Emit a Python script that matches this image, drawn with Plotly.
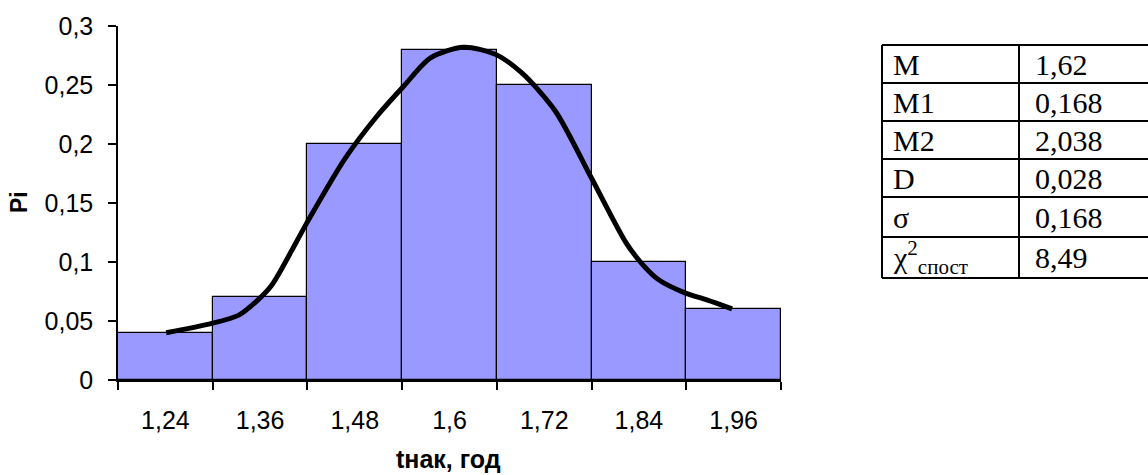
import plotly.graph_objects as go

# ---- data ----
categories = [1.24, 1.36, 1.48, 1.60, 1.72, 1.84, 1.96]
tick_labels = ["1,24", "1,36", "1,48", "1,6", "1,72", "1,84", "1,96"]
pi_values = [0.04, 0.07, 0.20, 0.28, 0.25, 0.10, 0.06]

curve_x = [1.241, 1.299, 1.333, 1.355, 1.375, 1.406, 1.420, 1.468, 1.508, 1.542,
           1.576, 1.618, 1.658, 1.692, 1.734, 1.780, 1.824, 1.845, 1.865, 1.899,
           1.926, 1.958]
curve_y = [0.040, 0.048, 0.055, 0.0665, 0.0806, 0.117, 0.134, 0.188, 0.2235, 0.249,
           0.273, 0.282, 0.276, 0.260, 0.228, 0.171, 0.116, 0.0976, 0.0849, 0.0736,
           0.0679, 0.0603]

y_ticks = [0, 0.05, 0.1, 0.15, 0.2, 0.25, 0.3]
y_tick_labels = ["0", "0,05", "0,1", "0,15", "0,2", "0,25", "0,3"]

table_names = ["M", "M1", "M2", "D", "σ", "χ<sup>2</sup><sub>спост</sub>"]
table_values = ["1,62", "0,168", "2,038", "0,028", "0,168", "8,49"]

bin_width = 0.12

W, H = 1148, 475
L, R, T, B = 118, 367, 26, 95
PW = W - L - R
PH = H - T - B


def px_x(p):
    return (p - L) / PW


def px_y(p):
    return 1 - (p - T) / PH


fig = go.Figure()
fig.add_trace(go.Bar(
    x=categories, y=pi_values, width=bin_width,
    marker=dict(color="#9999FF", line=dict(color="black", width=1.2)),
    showlegend=False, hoverinfo="skip",
))
fig.add_trace(go.Scatter(
    x=curve_x, y=curve_y, mode="lines",
    line=dict(color="black", width=5, shape="spline", smoothing=0.8),
    showlegend=False, hoverinfo="skip",
))

tick_font = dict(family="Liberation Sans, Arial, sans-serif", size=25, color="black")

fig.update_xaxes(
    range=[categories[0] - bin_width / 2, categories[-1] + bin_width / 2],
    tickvals=categories, ticktext=tick_labels,
    ticks="outside", ticklen=17, tickcolor="rgba(0,0,0,0)",
    minor=dict(tick0=categories[0] - bin_width / 2, dtick=bin_width,
               ticks="outside", ticklen=8, tickcolor="black", tickwidth=1.5,
               showgrid=False),
    showline=True, linecolor="black", linewidth=2,
    showgrid=False, zeroline=False, tickfont=tick_font,
)
fig.update_yaxes(
    range=[0, 0.3], tickvals=y_ticks, ticktext=y_tick_labels,
    ticks="outside", ticklen=8, tickcolor="black", tickwidth=1.5,
    ticklabelstandoff=10,
    showline=True, linecolor="black", linewidth=1.5,
    showgrid=False, zeroline=False, tickfont=tick_font,
)

annotations = [
    dict(text="<b>Pi</b>", x=px_x(19), y=px_y(202), xref="paper", yref="paper",
         xanchor="center", yanchor="middle",
         textangle=-90, showarrow=False,
         font=dict(family="Liberation Sans, Arial, sans-serif", size=23, color="black")),
    dict(text="<b>tнак, год</b>", x=px_x(448), y=px_y(459), xref="paper", yref="paper",
         xanchor="center", yanchor="middle", borderpad=0,
         showarrow=False,
         font=dict(family="Liberation Sans, Arial, sans-serif", size=25, color="black")),
]

# table
row_lines = [45, 83, 121, 159, 197, 237, 278]
left_x, mid_x, right_x = 882, 1019, 1160
shapes = []
for i, yy in enumerate(row_lines):
    shapes.append(dict(type="line", xref="paper", yref="paper",
                       x0=px_x(left_x), x1=px_x(right_x), y0=px_y(yy), y1=px_y(yy),
                       line=dict(color="black", width=2)))
for xx in (left_x, mid_x):
    shapes.append(dict(type="line", xref="paper", yref="paper",
                       x0=px_x(xx), x1=px_x(xx), y0=px_y(row_lines[0]), y1=px_y(row_lines[-1]),
                       line=dict(color="black", width=2)))

tfont = dict(family="Liberation Serif, Times New Roman, serif", size=30, color="black")
for i, (nm, val) in enumerate(zip(table_names, table_values)):
    yc = (row_lines[i] + row_lines[i + 1]) / 2
    annotations.append(dict(text=nm, x=px_x(891), y=px_y(yc), xref="paper", yref="paper",
                            xanchor="left", yanchor="middle", showarrow=False, font=tfont))
    annotations.append(dict(text=val, x=px_x(1033), y=px_y(yc), xref="paper", yref="paper",
                            xanchor="left", yanchor="middle", showarrow=False, font=tfont))

fig.update_layout(
    width=W, height=H,
    margin=dict(l=L, r=R, t=T, b=B, pad=0),
    paper_bgcolor="white", plot_bgcolor="white",
    bargap=0, shapes=shapes, annotations=annotations,
)

fig.write_html("out.html")
